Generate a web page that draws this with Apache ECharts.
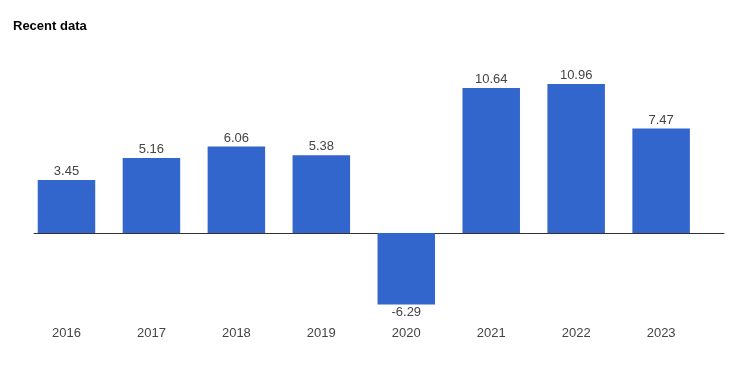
<!DOCTYPE html>
<html>
<head>
<meta charset="utf-8">
<script src="https://cdn.jsdelivr.net/npm/echarts@6/dist/echarts.min.js"></script>
<style>
html,body{margin:0;padding:0;background:#fff;}
#c{width:738px;height:370px;}
</style>
</head>
<body>
<div id="c"></div>
<script>
const years = ['2016', '2017', '2018', '2019', '2020', '2021', '2022', '2023'];
const values = [3.45, 5.16, 6.06, 5.38, -6.29, 10.64, 10.96, 7.47];
const baseline = -0.7;

const yMin = -7.5, yMax = 12;
const chart = echarts.init(document.getElementById('c'), null, {renderer: 'canvas'});
const font = 'Arial, "Liberation Sans", sans-serif';
chart.setOption({
  animation: false,
  title: {
    text: 'Recent data', left: 8, top: 15,
    textStyle: {fontFamily: font, fontSize: 13, fontWeight: 'bold', color: '#000'}
  },
  grid: [
    {left: 24, right: 34.4, top: 70.7, bottom: 50.1},
    {left: 34, right: 14, top: 70.7, bottom: 50.1}
  ],
  xAxis: [
    {
      type: 'category', data: years, gridIndex: 0,
      axisLine: {show: false, onZero: false}, axisTick: {show: false},
      axisLabel: {color: '#444', fontSize: 13, fontFamily: font, margin: 7}
    },
    {
      type: 'value', gridIndex: 1, min: 0, max: 1,
      axisLine: {show: true, onZero: true, lineStyle: {color: '#333', width: 1}},
      axisTick: {show: false}, axisLabel: {show: false}, splitLine: {show: false}
    }
  ],
  yAxis: [
    {type: 'value', gridIndex: 0, min: yMin, max: yMax, show: false, splitLine: {show: false}},
    {type: 'value', gridIndex: 1, min: yMin - baseline, max: yMax - baseline, show: false, splitLine: {show: false}}
  ],
  series: [
    {
      type: 'bar', stack: 's', stackStrategy: 'all', barWidth: 57.5, silent: true,
      xAxisIndex: 0, yAxisIndex: 0,
      data: years.map(() => baseline),
      itemStyle: {color: 'rgba(0,0,0,0)'}
    },
    {
      type: 'bar', stack: 's', stackStrategy: 'all', barWidth: 57.5,
      xAxisIndex: 0, yAxisIndex: 0,
      data: values.map(v => ({value: v - baseline, label: {position: v < 0 ? 'bottom' : 'top', distance: v < 0 ? 1 : 2}})),
      itemStyle: {color: '#3366cc'},
      label: {
        show: true, color: '#444', fontSize: 13, fontFamily: font,
        formatter: p => values[p.dataIndex].toFixed(2)
      }
    }
  ]
});
</script>
</body>
</html>
